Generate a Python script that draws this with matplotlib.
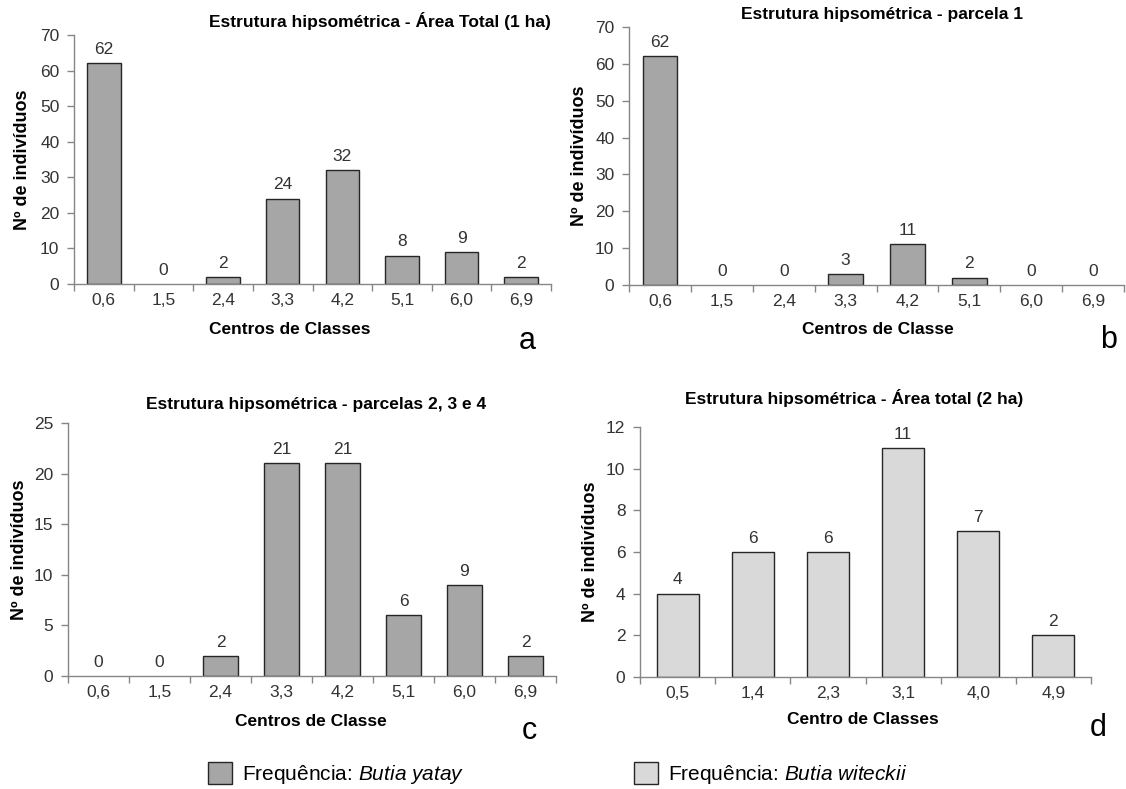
import numpy as np
import matplotlib.pyplot as plt

plt.rcParams['font.family'] = ['Liberation Sans', 'DejaVu Sans']
plt.rcParams['mathtext.fontset'] = 'custom'
plt.rcParams['mathtext.rm'] = 'Liberation Sans'
plt.rcParams['mathtext.it'] = 'Liberation Sans:italic'

# data
classes_yatay = ["0,6", "1,5", "2,4", "3,3", "4,2", "5,1", "6,0", "6,9"]
freq_total_1ha = [62, 0, 2, 24, 32, 8, 9, 2]
freq_parcela1 = [62, 0, 0, 3, 11, 2, 0, 0]
freq_parcelas234 = [0, 0, 2, 21, 21, 6, 9, 2]

classes_witeckii = ["0,5", "1,4", "2,3", "3,1", "4,0", "4,9"]
freq_total_2ha = [4, 6, 6, 11, 7, 2]

W, H = 1126, 789
DARK = "#a6a6a6"
LIGHT = "#d9d9d9"
EDGE = "#262626"
AXC = "#868686"
TXT = "#333333"

fig = plt.figure(figsize=(W / 100, H / 100), dpi=100)


def px_rect(l, t, r, b):
    return [l / W, 1 - b / H, (r - l) / W, (b - t) / H]


def ftext(x, y, s, **kw):
    return fig.text(x / W, 1 - y / H, s, ha="center", va="center", **kw)


def bar_panel(rect, cats, vals, color, ymax, ystep, title, title_xy,
              xlabel, xlabel_xy, letter, letter_xy, ylabel_x):
    ax = fig.add_axes(px_rect(*rect))
    x = np.arange(len(cats))
    lw = [0 if v == 0 else 1.0 for v in vals]
    ax.bar(x, vals, width=0.56, color=color, edgecolor=EDGE,
           linewidth=lw, zorder=2)
    for xi, v in zip(x, vals):
        ax.annotate(str(v), (xi, v), xytext=(0, 4.5), textcoords="offset points",
                    ha="center", va="bottom", fontsize=12.5, color=TXT)
    ax.set_xlim(-0.5, len(cats) - 0.5)
    ax.set_ylim(0, ymax)
    ax.set_yticks(np.arange(0, ymax + 0.1, ystep))
    ax.set_xticks(x)
    ax.set_xticklabels(cats)
    ax.set_xticks(np.arange(-0.5, len(cats), 1.0), minor=True)
    ax.tick_params(axis="x", which="major", length=0, pad=6.5,
                   labelsize=12.5, labelcolor=TXT)
    ax.tick_params(axis="x", which="minor", length=5, color=AXC, width=1)
    ax.tick_params(axis="y", length=5, color=AXC, width=1, pad=5.5,
                   labelsize=12.5, labelcolor=TXT)
    for s in ["top", "right"]:
        ax.spines[s].set_visible(False)
    for s in ["left", "bottom"]:
        ax.spines[s].set_color(AXC)
        ax.spines[s].set_linewidth(1)
    ymid = (rect[1] + rect[3]) / 2
    ftext(ylabel_x, ymid, "Nº de indivíduos", rotation=90, fontsize=13,
          fontweight="bold", color="black")
    ftext(*xlabel_xy, xlabel, fontsize=12.5, fontweight="bold", color="black")
    ftext(*title_xy, title, fontsize=12.5, fontweight="bold", color="black")
    ftext(*letter_xy, letter, fontsize=22, color="black")
    return ax


bar_panel((74, 35, 551, 284), classes_yatay, freq_total_1ha, DARK, 70, 10,
          "Estrutura hipsométrica - Área Total (1 ha)", (380, 21),
          "Centros de Classes", (290, 330), "a", (527, 341), 23)
bar_panel((629, 27, 1124, 285), classes_yatay, freq_parcela1, DARK, 70, 10,
          "Estrutura hipsométrica - parcela 1", (882, 15),
          "Centros de Classe", (878, 330), "b", (1109, 340), 580)
bar_panel((68, 423, 556, 676), classes_yatay, freq_parcelas234, DARK, 25, 5,
          "Estrutura hipsométrica - parcelas 2, 3 e 4", (316, 405),
          "Centros de Classe", (311, 722), "c", (529, 731), 20)
bar_panel((640, 427, 1091, 677), classes_witeckii, freq_total_2ha, LIGHT, 12, 2,
          "Estrutura hipsométrica - Área total (2 ha)", (854, 398),
          "Centro de Classes", (863, 720), "d", (1098, 728), 591)

# legends
leg_kw = dict(loc="center left", frameon=False, fontsize=15, borderpad=0,
              borderaxespad=0, handlelength=1.15, handleheight=1.2,
              handletextpad=0.5, labelcolor="black")
fig.legend(handles=[plt.Rectangle((0, 0), 1, 1, facecolor=DARK, edgecolor=EDGE)],
           labels=["Frequência: $\\mathit{Butia\\ yatay}$"],
           bbox_to_anchor=(208 / W, 1 - 774 / H), **leg_kw)
fig.legend(handles=[plt.Rectangle((0, 0), 1, 1, facecolor=LIGHT, edgecolor=EDGE)],
           labels=["Frequência: $\\mathit{Butia\\ witeckii}$"],
           bbox_to_anchor=(634 / W, 1 - 774 / H), **leg_kw)

fig.savefig("out.png", dpi=100)
